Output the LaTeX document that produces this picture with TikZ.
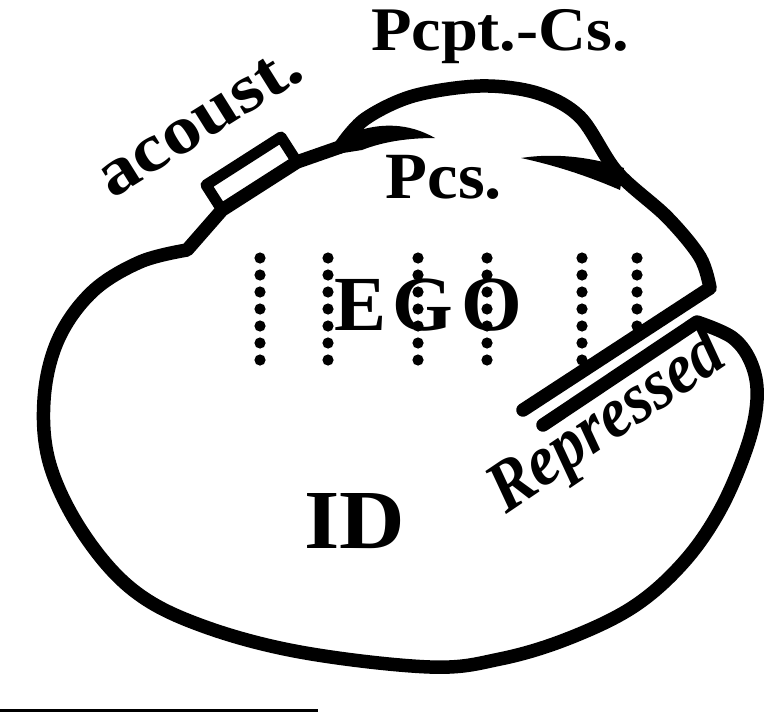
\documentclass[tikz,border=0pt]{standalone}
\usepackage{fontspec}
\usepackage{graphicx}
\setmainfont{Liberation Serif}
\begin{document}
\begin{tikzpicture}[x=1pt,y=-1pt,line join=round,
  outline/.style={line width=13.5pt},
  dotmark/.style={fill=black},
  lbl/.style={inner sep=0pt,outer sep=0pt,anchor=base}]
\useasboundingbox (0,0) rectangle (768,712);

% named corner points
\coordinate (junc) at (340,147);
\coordinate (boxR) at (297,162);
\coordinate (boxL) at (222,210);
\coordinate (lcorner) at (187,250);
\coordinate (egocorner) at (710,288);
\coordinate (egoend) at (523,410);
\coordinate (reptip) at (697,322);
\coordinate (repend) at (543,425);

% Pcpt.-Cs. cap and ego boundary
\draw[outline,line cap=round] plot[smooth,tension=0.55] coordinates {(340,147) (365,119) (413,96) (480,86) (537,93) (580,117) (617,172) (667,217) (700,257) (710,288)} -- (egoend);

% main outline: box side, left, bottom, right round to the repressed
\draw[outline,line cap=round] (junc) -- (boxR) -- (boxL) -- (lcorner) -- plot[smooth,tension=0.6] coordinates {(187,250) (140,262) (92,292) (58,340) (44,400) (50,465) (83,533) (133,590) (200,625) (300,652) (430,667) (500,659) (567,639) (633,607) (683,563) (720,510) (747,447) (757,400) (752,365) (733,338) (697,322)} -- (repend);

% acoustic box
\draw[line width=11pt] (boxL) -- (206,185) -- (281,137) -- (boxR);

% tapered inner strokes
\fill (343,153) -- (357,131) .. controls (388,121) and (414,126) .. (435,138) .. controls (410,138) and (385,141) .. (362,150) -- cycle;
\fill (521,158) .. controls (560,152) and (598,159) .. (624,168) -- (620,190) .. controls (590,177) and (558,166) .. cycle;

% dotted columns
\foreach \x in {260,328,418,487,582}{
  \foreach \y in {258,275,292,309,326,343,360}{
    \fill[dotmark] (\x,\y) circle[radius=5.6pt];
  }
}
\foreach \y in {258,275,292,309,326}{
  \fill[dotmark] (637,\y) circle[radius=5.6pt];
}

% labels
\node[lbl,font=\bfseries\fontsize{62}{62}\selectfont] (pcptcs) at (500,50) {\scalebox{1.07}[1]{Pcpt.-Cs.}};
\node[lbl,font=\bfseries\fontsize{66}{66}\selectfont] (pcs) at (444,198) {\scalebox{1.04}[1]{Pcs.}};
\node[lbl,font=\bfseries\fontsize{78}{78}\selectfont] (egoE) at (361,330) {E};
\node[lbl,font=\bfseries\fontsize{78}{78}\selectfont] (egoG) at (423,330) {G};
\node[lbl,font=\bfseries\fontsize{78}{78}\selectfont] (egoO) at (492,330) {O};
\node[lbl,font=\bfseries\fontsize{84}{84}\selectfont] (id) at (355,548) {\scalebox{1.08}[1]{ID}};
\node[lbl,anchor=base west,rotate=32,font=\bfseries\fontsize{68}{68}\selectfont] (acoust) at (112,199) {\scalebox{1.14}[1]{acoust.}};
\node[lbl,anchor=base west,rotate=34,font=\bfseries\itshape\fontsize{72}{72}\selectfont] (repressed) at (506,514) {\scalebox{0.9}[1]{Repressed}};

% footnote rule
\coordinate (ruleL) at (0,710);
\coordinate (ruleR) at (318,710);
\draw[line width=3pt] (ruleL) -- (ruleR);
\end{tikzpicture}
\end{document}
